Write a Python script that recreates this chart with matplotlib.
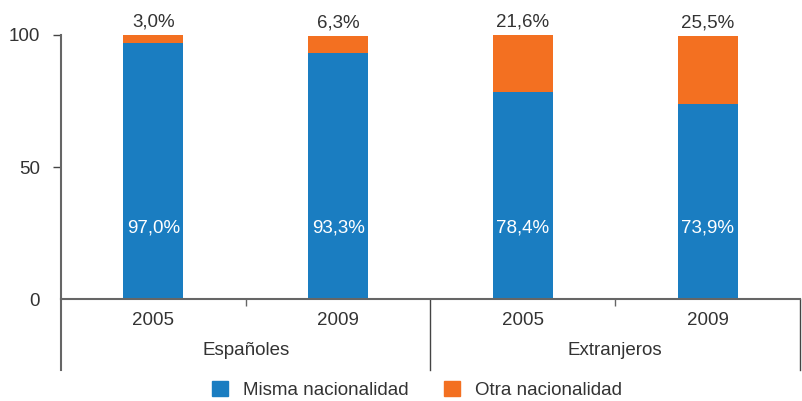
import matplotlib.pyplot as plt
import matplotlib.transforms as mtransforms
from matplotlib.patches import Patch

plt.rcParams['font.family'] = ['Liberation Sans', 'DejaVu Sans']

years = ['2005', '2009', '2005', '2009']
groups = ['Españoles', 'Extranjeros']
misma = [97.0, 93.3, 78.4, 73.9]
otra = [3.0, 6.3, 21.6, 25.5]
misma_labels = ['97,0%', '93,3%', '78,4%', '73,9%']
otra_labels = ['3,0%', '6,3%', '21,6%', '25,5%']

blue = '#1a7dc1'
orange = '#f37021'
txt = '#333333'
grey = '#666666'
fs = 13.5

fig = plt.figure(figsize=(8.02, 4.01), dpi=100)
ax = fig.add_axes([0.076, 0.254, 0.9215, 0.659])

x = list(range(len(years)))
w = 0.325
ax.bar(x, misma, w, color=blue, label='Misma nacionalidad')
ax.bar(x, otra, w, bottom=misma, color=orange, label='Otra nacionalidad')

for i in x:
    ax.text(i, 27, misma_labels[i], ha='center', va='center', color='white', fontsize=fs)
    ax.annotate(otra_labels[i], (i, misma[i] + otra[i]), xytext=(0, 3.5), textcoords='offset points',
                ha='center', va='bottom', color=txt, fontsize=fs)

ax.set_xlim(-0.5, 3.5)
ax.set_ylim(0, 100)
ax.set_yticks([0, 50, 100])
ax.tick_params(axis='y', labelsize=fs, colors='#444444', labelcolor=txt, length=6, width=1.0, pad=9)
ax.yaxis.get_major_ticks()[0].tick1line.set_visible(False)
ax.set_xticks([0.5, 2.5])
ax.set_xticklabels([])
ax.tick_params(axis='x', length=5, width=1.0, colors=grey)

for s in ['top', 'right']:
    ax.spines[s].set_visible(False)
for s in ['left', 'bottom']:
    ax.spines[s].set_color(grey)
    ax.spines[s].set_linewidth(1.5)

trans = mtransforms.blended_transform_factory(ax.transData, ax.transAxes)
for xs in [-0.5, 1.5, 3.5]:
    ax.plot([xs, xs], [0, -0.269], transform=trans, color=grey if xs == -0.5 else '#444444',
            lw=1.5 if xs == -0.5 else 1.0, clip_on=False)

for i in x:
    ax.text(i, -0.08, years[i], transform=trans, ha='center', va='center', color=txt, fontsize=fs)
for j, g in enumerate(groups):
    ax.text(2 * j + 0.5, -0.195, g, transform=trans, ha='center', va='center', color=txt, fontsize=fs)

handles = [Patch(color=blue, label='Misma nacionalidad'), Patch(color=orange, label='Otra nacionalidad')]
fig.legend(handles=handles, loc='center', bbox_to_anchor=(0.52, 0.027), ncol=2, frameon=False,
           fontsize=fs, handlelength=0.85, handleheight=0.85, handletextpad=0.8, columnspacing=1.9,
           labelcolor=txt, borderpad=0.1)

fig.savefig('out.png', dpi=100)
